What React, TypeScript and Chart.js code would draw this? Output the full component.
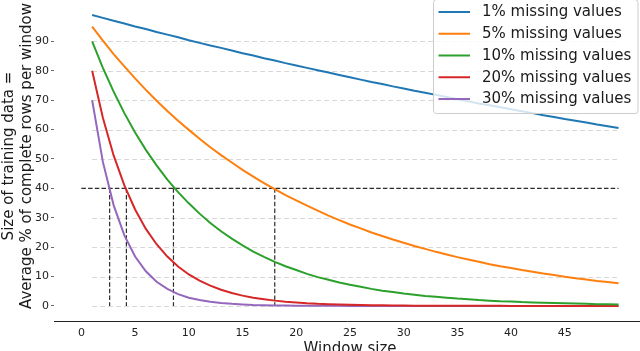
import React, { useEffect, useRef } from 'react';
import { Chart, registerables } from 'chart.js';

Chart.register(...registerables);

const windowSizes = [
  1, 2, 3, 4, 5, 6, 7, 8, 9, 10, 11, 12, 13, 14, 15, 16, 17, 18, 19, 20, 21, 22, 23, 24, 25,
  26, 27, 28, 29, 30, 31, 32, 33, 34, 35, 36, 37, 38, 39, 40, 41, 42, 43, 44, 45, 46, 47, 48, 49, 50,
];

const missing1 = [
  99.0, 98.0, 97.0, 96.1, 95.1, 94.2, 93.2, 92.3, 91.4, 90.4, 89.5, 88.6, 87.8, 86.9, 86.0, 85.2, 84.3,
  83.5, 82.6, 81.8, 81.0, 80.2, 79.4, 78.6, 77.8, 77.0, 76.2, 75.5, 74.7, 74.0, 73.2, 72.5, 71.8, 71.1,
  70.3, 69.6, 68.9, 68.3, 67.6, 66.9, 66.2, 65.6, 64.9, 64.3, 63.6, 63.0, 62.4, 61.7, 61.1, 60.5,
];
const missing5 = [
  95.0, 90.3, 85.7, 81.5, 77.4, 73.5, 69.8, 66.3, 63.0, 59.9, 56.9, 54.0, 51.3, 48.8, 46.3, 44.0, 41.8,
  39.7, 37.7, 35.9, 34.1, 32.4, 30.7, 29.2, 27.7, 26.4, 25.0, 23.8, 22.6, 21.5, 20.4, 19.4, 18.4, 17.5,
  16.6, 15.8, 15.0, 14.2, 13.5, 12.9, 12.2, 11.6, 11.0, 10.5, 9.9, 9.4, 9.0, 8.5, 8.1, 7.7,
];
const missing10 = [
  90.0, 81.0, 72.9, 65.6, 59.0, 53.1, 47.8, 43.0, 38.7, 34.9, 31.4, 28.2, 25.4, 22.9, 20.6, 18.5, 16.7,
  15.0, 13.5, 12.2, 10.9, 9.8, 8.9, 8.0, 7.2, 6.5, 5.8, 5.2, 4.7, 4.2, 3.8, 3.4, 3.1, 2.8, 2.5, 2.3,
  2.0, 1.8, 1.6, 1.5, 1.3, 1.2, 1.1, 1.0, 0.9, 0.8, 0.7, 0.6, 0.6, 0.5,
];
const missing20 = [
  80.0, 64.0, 51.2, 41.0, 32.8, 26.2, 21.0, 16.8, 13.4, 10.7, 8.6, 6.9, 5.5, 4.4, 3.5, 2.8, 2.3, 1.8,
  1.4, 1.2, 0.9, 0.7, 0.6, 0.5, 0.4, 0.3, 0.24, 0.19, 0.15, 0.12, 0.1, 0.08, 0.06, 0.05, 0.04, 0.03,
  0.03, 0.02, 0.02, 0.01, 0.01, 0.01, 0.01, 0.0, 0.0, 0.0, 0.0, 0.0, 0.0, 0.0,
];
const missing30 = [
  70.0, 49.0, 34.3, 24.0, 16.8, 11.8, 8.2, 5.8, 4.0, 2.8, 2.0, 1.4, 1.0, 0.7, 0.5, 0.3, 0.23, 0.16,
  0.11, 0.08, 0.06, 0.04, 0.03, 0.02, 0.01, 0.01, 0.01, 0.0, 0.0, 0.0, 0.0, 0.0, 0.0, 0.0, 0.0, 0.0,
  0.0, 0.0, 0.0, 0.0, 0.0, 0.0, 0.0, 0.0, 0.0, 0.0, 0.0, 0.0, 0.0, 0.0,
];

const seriesValues = [missing1, missing5, missing10, missing20, missing30];
const seriesLabels = [
  '1% missing values',
  '5% missing values',
  '10% missing values',
  '20% missing values',
  '30% missing values',
];
const seriesColors = ['#1f77b4', '#ff7f0e', '#2ca02c', '#d62728', '#9467bd'];

const xTickValues = [0, 5, 10, 15, 20, 25, 30, 35, 40, 45];
const yTickValues = [0, 10, 20, 30, 40, 50, 60, 70, 80, 90];
const thresholdLevel = 40;
const thresholdWindows = [18.0, 8.57, 4.19, 2.63];

const xTitle = 'Window size';
const yTitleLines = ['Size of training data =', 'Average % of complete rows per window'];

const FONT = '"DejaVu Sans", sans-serif';

const referencePlugin = {
  id: 'referenceLines',
  beforeDatasetsDraw(chart: any) {
    const ctx = chart.ctx;
    const xs = chart.scales.x;
    const ys = chart.scales.y;
    const area = chart.chartArea;
    ctx.save();
    ctx.beginPath();
    ctx.rect(area.left, area.top, area.right - area.left, area.bottom - area.top);
    ctx.clip();
    // light dashed horizontal guides
    ctx.strokeStyle = '#d8d8d8';
    ctx.lineWidth = 1;
    ctx.setLineDash([5, 3]);
    const x1 = xs.getPixelForValue(windowSizes[0]);
    const x2 = xs.getPixelForValue(windowSizes[windowSizes.length - 1]);
    yTickValues.forEach((v) => {
      if (v === thresholdLevel) return;
      const y = Math.round(ys.getPixelForValue(v)) + 0.5;
      ctx.beginPath();
      ctx.moveTo(x1, y);
      ctx.lineTo(x2, y);
      ctx.stroke();
    });
    // threshold line
    ctx.strokeStyle = '#2b2b2b';
    ctx.lineWidth = 1.2;
    ctx.setLineDash([4.5, 2.2]);
    const yT = ys.getPixelForValue(thresholdLevel);
    ctx.beginPath();
    ctx.moveTo(xs.getPixelForValue(0), yT);
    ctx.lineTo(x2, yT);
    ctx.stroke();
    const y0 = ys.getPixelForValue(0);
    thresholdWindows.forEach((w) => {
      const x = xs.getPixelForValue(w);
      ctx.beginPath();
      ctx.moveTo(x, yT);
      ctx.lineTo(x, y0);
      ctx.stroke();
    });
    ctx.restore();
  },
  afterDraw(chart: any) {
    const ctx = chart.ctx;
    const area = chart.chartArea;
    ctx.save();
    // legend box
    const bx = 433.5;
    const by = -0.5;
    const bw = 204.5;
    const bh = 114;
    const r = 3;
    ctx.beginPath();
    ctx.moveTo(bx + r, by);
    ctx.lineTo(bx + bw - r, by);
    ctx.quadraticCurveTo(bx + bw, by, bx + bw, by + r);
    ctx.lineTo(bx + bw, by + bh - r);
    ctx.quadraticCurveTo(bx + bw, by + bh, bx + bw - r, by + bh);
    ctx.lineTo(bx + r, by + bh);
    ctx.quadraticCurveTo(bx, by + bh, bx, by + bh - r);
    ctx.lineTo(bx, by + r);
    ctx.quadraticCurveTo(bx, by, bx + r, by);
    ctx.closePath();
    ctx.fillStyle = 'rgba(255,255,255,0.8)';
    ctx.fill();
    ctx.strokeStyle = '#cccccc';
    ctx.lineWidth = 1;
    ctx.stroke();
    ctx.font = `15px ${FONT}`;
    ctx.textBaseline = 'middle';
    ctx.textAlign = 'left';
    seriesLabels.forEach((label, i) => {
      const y = 12 + i * 21.75;
      ctx.strokeStyle = seriesColors[i];
      ctx.lineWidth = 2;
      ctx.beginPath();
      ctx.moveTo(438.5, y);
      ctx.lineTo(470, y);
      ctx.stroke();
      ctx.fillStyle = '#1a1a1a';
      ctx.fillText(label, 482, y + 0.5);
    });
    // axis titles
    ctx.fillStyle = '#1a1a1a';
    ctx.font = `15px ${FONT}`;
    ctx.textAlign = 'center';
    ctx.textBaseline = 'alphabetic';
    ctx.fillText(xTitle, 350, 352.5);
    const lineX = [12.6, 31];
    yTitleLines.forEach((t, i) => {
      ctx.save();
      ctx.translate(lineX[i], 156);
      ctx.rotate(-Math.PI / 2);
      ctx.fillText(t, 0, 0);
      ctx.restore();
    });
    ctx.restore();
  },
};

export default function App() {
  const canvasRef = useRef<HTMLCanvasElement | null>(null);

  useEffect(() => {
    document.body.style.margin = '0';
    const canvas = canvasRef.current;
    if (!canvas) return;
    const chart = new Chart(canvas, {
      type: 'line',
      data: {
        datasets: seriesValues.map((vals, i) => ({
          label: seriesLabels[i],
          data: windowSizes.map((w, j) => ({ x: w, y: vals[j] })),
          borderColor: seriesColors[i],
          backgroundColor: seriesColors[i],
          borderWidth: 2,
          pointRadius: 0,
          tension: 0,
          fill: false,
        })),
      },
      options: {
        animation: false,
        responsive: false,
        devicePixelRatio: 1,
        layout: { padding: 0 },
        plugins: {
          legend: { display: false },
          title: { display: false },
          tooltip: { enabled: false },
        },
        scales: {
          x: {
            type: 'linear',
            min: -2.55,
            max: 52.0,
            afterFit: (scale: any) => {
              scale.height = 30;
            },
            afterBuildTicks: (scale: any) => {
              scale.ticks = xTickValues.map((v) => ({ value: v }));
            },
            grid: { display: false, drawTicks: false },
            border: { display: true, color: '#222222', width: 1 },
            ticks: {
              padding: 6,
              color: '#222222',
              font: { family: FONT, size: 11 },
              maxRotation: 0,
              autoSkip: false,
            },
          },
          y: {
            type: 'linear',
            min: -5.13,
            max: 101.16,
            afterFit: (scale: any) => {
              scale.width = 54;
            },
            afterBuildTicks: (scale: any) => {
              scale.ticks = yTickValues.map((v) => ({ value: v }));
            },
            grid: {
              display: true,
              drawOnChartArea: false,
              drawTicks: true,
              tickLength: 3,
              color: '#444444',
              lineWidth: 0.8,
            },
            border: { display: false },
            ticks: {
              padding: 2,
              color: '#222222',
              font: { family: FONT, size: 11 },
              autoSkip: false,
            },
          },
        },
      },
      plugins: [referencePlugin],
    });
    return () => chart.destroy();
  }, []);

  return (
    <div style={{ position: 'fixed', left: 0, top: 0, width: 640, height: 351 }}>
      <canvas ref={canvasRef} width={640} height={351} style={{ width: 640, height: 351 }} />
    </div>
  );
}
